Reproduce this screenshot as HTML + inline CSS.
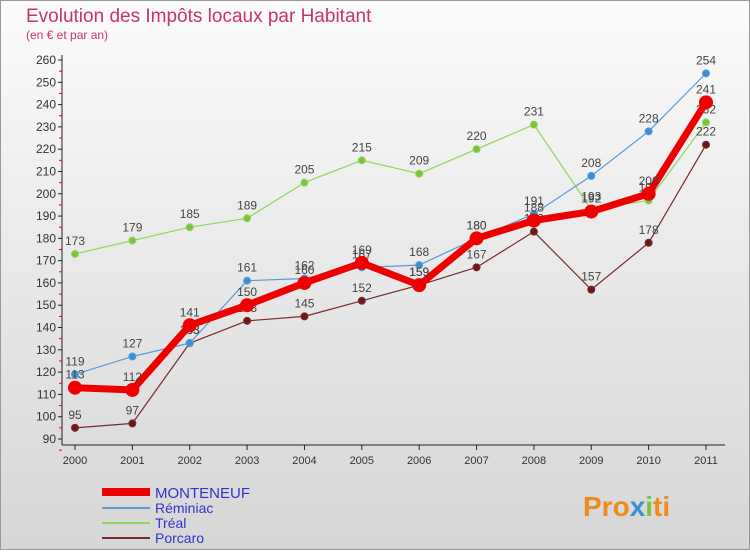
<!DOCTYPE html>
<html><head><meta charset="utf-8"><style>
body{margin:0;width:750px;height:550px;overflow:hidden;font-family:"Liberation Sans",sans-serif;}
</style></head><body>
<svg id="c" width="750" height="550" xmlns="http://www.w3.org/2000/svg">
<defs><linearGradient id="bg" x1="0" y1="0" x2="0" y2="1"><stop offset="0" stop-color="#fbfbfb"/><stop offset="1" stop-color="#d6d6d6"/></linearGradient></defs>
<rect x="0.5" y="0.5" width="749" height="549" fill="url(#bg)" stroke="#999"/>
<text x="26" y="22" font-size="19" fill="#c8336e">Evolution des Impôts locaux par Habitant</text>
<text x="26" y="39" font-size="12" fill="#c8336e">(en € et par an)</text>
<g id="axes"></g><g id="series"></g>
<g>
<line x1="102" y1="492" x2="150" y2="492" stroke="#ee0000" stroke-width="8"/>
<text x="155" y="498" font-size="15" fill="#3333cc">MONTENEUF</text>
<line x1="102" y1="508" x2="150" y2="508" stroke="#5b9bd5" stroke-width="2"/>
<text x="155" y="513" font-size="14" fill="#3333cc">Réminiac</text>
<line x1="102" y1="523" x2="150" y2="523" stroke="#8fd65a" stroke-width="2"/>
<text x="155" y="528" font-size="14" fill="#3333cc">Tréal</text>
<line x1="102" y1="538" x2="150" y2="538" stroke="#7a2a2a" stroke-width="2"/>
<text x="155" y="543" font-size="14" fill="#3333cc">Porcaro</text>
</g>
<text x="583" y="516" font-size="28" font-weight="bold" fill="#f08a1c">Pro<tspan fill="#3b8fd6">x</tspan><tspan fill="#7cc242">i</tspan>ti</text>
</svg>
<script>
const years=["2000","2001","2002","2003","2004","2005","2006","2007","2008","2009","2010","2011"];
const yTicks=[90,100,110,120,130,140,150,160,170,180,190,200,210,220,230,240,250,260];
const monteneuf=[113,112,141,150,160,169,159,180,188,192,200,241];
const reminiac=[119,127,133,161,162,167,168,180,191,208,228,254];
const treal=[173,179,185,189,205,215,209,220,231,193,197,232];
const porcaro=[95,97,133,143,145,152,159,167,183,157,178,222];
const NS="http://www.w3.org/2000/svg";
const X=i=>75+i*(631/11);
const Y=v=>439-(v-90)*(379/170);
function mk(t,a,p){const e=document.createElementNS(NS,t);for(const k in a)e.setAttribute(k,a[k]);p.appendChild(e);return e;}
const ax=document.getElementById('axes');
const yl=mk('line',{x1:62,y1:55,x2:62,y2:445,stroke:'#222'},ax);


const xl=mk('line',{x1:62,y1:445,x2:725,y2:445,stroke:'#222'},ax);


yTicks.forEach(v=>{
  mk('line',{x1:58,y1:Y(v),x2:62,y2:Y(v),stroke:'#222'},ax);
  mk('line',{x1:59,y1:Y(v)+11.15,x2:62,y2:Y(v)+11.15,stroke:'#e00'},ax);
  const t=mk('text',{x:56,y:Y(v)+4,'font-size':12,fill:'#333','text-anchor':'end'},ax);
  t.textContent=v;
  
  
});
years.forEach((y,i)=>{
  mk('line',{x1:X(i),y1:445,x2:X(i),y2:450,stroke:'#222'},ax);
  const t=mk('text',{x:X(i),y:464,'font-size':11,fill:'#333','text-anchor':'middle'},ax);
  t.textContent=y;
  
  
});
const sg=document.getElementById('series');
function draw(vals,name,color,w,r,dot){
  const g=mk('g',{},sg);
  
  
  const pl=mk('polyline',{points:vals.map((v,i)=>X(i)+','+Y(v)).join(' '),fill:'none',stroke:color,'stroke-width':w,'stroke-linejoin':'round'},g);
  
  
  vals.forEach((v,i)=>{
    const c=mk('circle',{cx:X(i),cy:Y(v),r:r,fill:dot,stroke:color,'stroke-width':1},g);
    
    
    const t=mk('text',{x:X(i),y:Y(v)-9,'font-size':12,fill:'#444','text-anchor':'middle'},g);
    t.textContent=v;
    
    
  });
}
draw(treal,'treal','#8fd65a',1.2,3.5,'#7cc242');
draw(porcaro,'porcaro','#7a2a2a',1.2,3.5,'#6b1a1a');
draw(reminiac,'reminiac','#5b9bd5',1.2,3.5,'#3b8fd6');
draw(monteneuf,'monteneuf','#ee0000',7,6.5,'#ee0000');
</script>
</body></html>
